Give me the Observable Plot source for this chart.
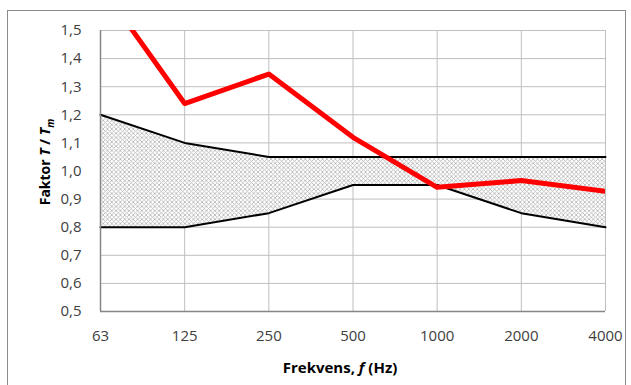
<!DOCTYPE html>
<html>
<head>
<meta charset="utf-8">
<script src="https://cdn.jsdelivr.net/npm/d3@7"></script>
<script src="https://cdn.jsdelivr.net/npm/@observablehq/plot@0.6"></script>
<style>
  html, body { margin: 0; padding: 0; background: #fff; }
  #chart { position: relative; width: 631px; height: 385px; }
</style>
</head>
<body>
<div id="chart"></div>
<script>
const freqs = ["63", "125", "250", "500", "1000", "2000", "4000"];
const upper = [1.2, 1.1, 1.05, 1.05, 1.05, 1.05, 1.05];
const lower = [0.8, 0.8, 0.85, 0.95, 0.95, 0.85, 0.8];
const measured = [1.66, 1.24, 1.345, 1.12, 0.942, 0.966, 0.928];
const yTicks = [0.5, 0.6, 0.7, 0.8, 0.9, 1.0, 1.1, 1.2, 1.3, 1.4, 1.5];

const idx = freqs.map((_, i) => i);
const font = "'Open Sans', sans-serif";

const plot = Plot.plot({
  width: 631,
  height: 385,
  marginLeft: 100,
  marginRight: 26,
  marginTop: 30,
  marginBottom: 74,
  style: { fontFamily: font, fontSize: "14px", color: "#404040", background: "transparent" },
  x: { type: "linear", domain: [0, 6], label: null },
  y: { domain: [0.5, 1.5], label: null },
  marks: [
    Plot.gridX(idx, { stroke: "#bfbfbf", strokeOpacity: 1 }),
    Plot.gridY(yTicks, { stroke: "#bfbfbf", strokeOpacity: 1 }),
    Plot.areaY(idx, { x: i => i, y1: i => lower[i], y2: i => upper[i], fill: "url(#hatch)" }),
    Plot.lineY(idx, { x: i => i, y: i => upper[i], stroke: "#000", strokeWidth: 2 }),
    Plot.lineY(idx, { x: i => i, y: i => lower[i], stroke: "#000", strokeWidth: 2 }),
    Plot.ruleX([0], { stroke: "#868686", strokeWidth: 1.5 }),
    Plot.ruleY([0.5], { stroke: "#868686", strokeWidth: 1.5 }),
    Plot.lineY(idx, { x: i => i, y: i => measured[i], stroke: "#ff0000", strokeWidth: 5, clip: true }),
    Plot.axisX(idx, { tickSize: 0, tickPadding: 19, tickFormat: i => freqs[i], fontSize: 15, fill: "#404040", label: null }),
    Plot.axisY(yTicks, { tickSize: 0, tickPadding: 19, tickFormat: d => d.toFixed(1).replace(".", ","), fontSize: 15, fill: "#404040", label: null })
  ]
});

const svg = d3.select(plot);
const defs = svg.insert("defs", ":first-child");
const pat = defs.append("pattern")
  .attr("id", "hatch")
  .attr("patternUnits", "userSpaceOnUse")
  .attr("width", 4.3).attr("height", 4.3);
pat.append("rect").attr("width", 4.3).attr("height", 4.3).attr("fill", "#ffffff");
pat.append("path").attr("d", "M0,0 L4.3,4.3 M4.3,0 L0,4.3").attr("stroke", "#b4b4b4").attr("stroke-width", 0.8).attr("fill", "none");

// outer chart frame
svg.insert("rect", ":first-child")
  .attr("x", 7.5).attr("y", 10.5).attr("width", 618).attr("height", 390)
  .attr("fill", "#fff").attr("stroke", "#8c8c8c").attr("stroke-width", 1);

// axis titles
const yt = svg.append("text")
  .attr("transform", "translate(50,162) rotate(-90)")
  .attr("text-anchor", "middle")
  .attr("font-family", font).attr("font-size", 14).attr("font-weight", "bold").attr("fill", "#000");
yt.append("tspan").text("Faktor ");
yt.append("tspan").attr("font-style", "italic").text("T");
yt.append("tspan").text(" / ");
yt.append("tspan").attr("font-style", "italic").text("T");
yt.append("tspan").attr("font-style", "italic").attr("font-size", 10).attr("dy", 4).text("m");

const xt = svg.append("text")
  .attr("x", 340).attr("y", 373)
  .attr("text-anchor", "middle")
  .attr("font-family", font).attr("font-size", 15).attr("font-weight", "bold").attr("fill", "#000");
xt.append("tspan").text("Frekvens, ");
xt.append("tspan").attr("font-style", "italic").text("f");
xt.append("tspan").text(" (Hz)");

document.getElementById("chart").appendChild(plot);
</script>
</body>
</html>
